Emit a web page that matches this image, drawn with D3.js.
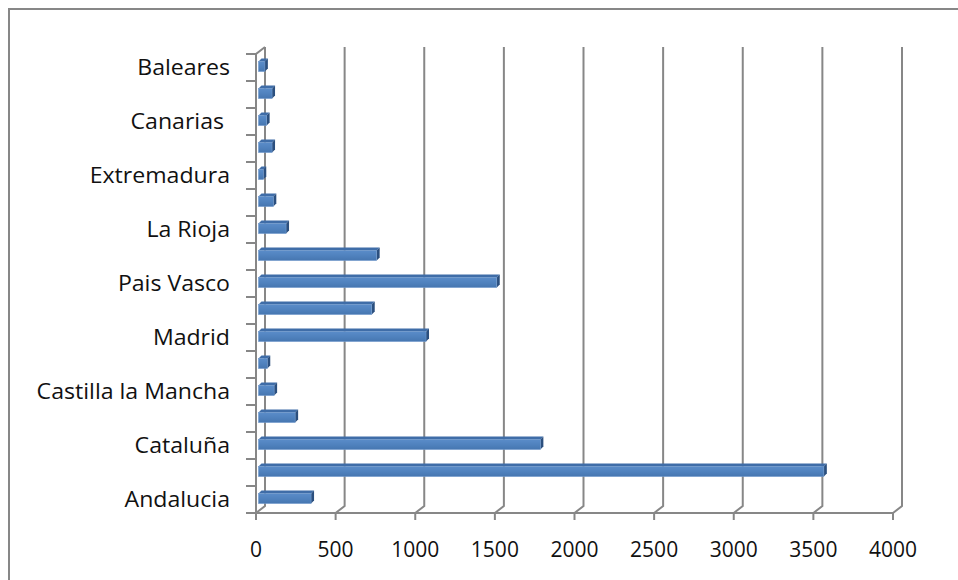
<!DOCTYPE html>
<html>
<head>
<meta charset="utf-8">
<script src="https://cdn.jsdelivr.net/npm/d3@7"></script>
<style>
  html, body { margin: 0; padding: 0; background: #ffffff; }
  svg { display: block; }
  text { font-family: "Open Sans", "Liberation Sans", sans-serif; fill: #111; white-space: pre; }
</style>
</head>
<body>
<svg id="chart" width="958" height="580"></svg>
<script>
// ---- data (bottom to top) ----
const categories = ["Andalucia", "C. Valenciana", "Cataluña", "Castilla y León", "Castilla la Mancha",
  "Murcia", "Madrid", "Galicia", "Pais Vasco", "Navarra", "La Rioja", "Aragón", "Extremadura",
  "Asturias", "Canarias ", "Cantabria", "Baleares"];
const values = [330, 3550, 1770, 230, 98, 55, 1052, 711, 1496, 742, 173, 93, 30, 85, 51, 85, 40];
const xTicks = [0, 500, 1000, 1500, 2000, 2500, 3000, 3500, 4000];
const shownLabels = categories.filter((d, i) => i % 2 === 0);

const svg = d3.select("#chart");
const gray = "#878787";
const depthX = 9, depthY = -7;       // back wall offset
const barDX = 2.5;                    // bar plane offset
const barTop = 3;                     // bar 3D depth
const textScale = 1.1;

const x = d3.scaleLinear().domain([0, 4000]).range([256, 893]);
const y = d3.scaleBand().domain(categories).range([513, 54]).padding(0);

// outer border
svg.append("rect").attr("x", 9).attr("y", 9).attr("width", 1000).attr("height", 1000)
  .attr("fill", "none").attr("stroke", gray).attr("stroke-width", 2);

// gradient for bars
const defs = svg.append("defs");
const grad = defs.append("linearGradient").attr("id", "barGrad")
  .attr("x1", 0).attr("y1", 0).attr("x2", 0).attr("y2", 1);
grad.append("stop").attr("offset", "0%").attr("stop-color", "#5a8cc9");
grad.append("stop").attr("offset", "55%").attr("stop-color", "#4f81bd");
grad.append("stop").attr("offset", "100%").attr("stop-color", "#4676b0");

const yTop = y.range()[1], yBot = y.range()[0];

// back wall gridlines + floor slants + bottom ticks
const grid = svg.append("g").attr("stroke", gray).attr("stroke-width", 2).attr("fill", "none");
xTicks.forEach(t => {
  const fx = x(t);
  grid.append("path").attr("d",
    `M${fx},${yBot} L${fx + depthX},${yBot + depthY} L${fx + depthX},${yTop + depthY}`);
  grid.append("line").attr("x1", fx).attr("x2", fx).attr("y1", yBot).attr("y2", yBot + 7);
});
// front axes
grid.append("line").attr("x1", x(0)).attr("x2", x(4000)).attr("y1", yBot).attr("y2", yBot);
grid.append("path").attr("d", `M${x(0)},${yBot} L${x(0)},${yTop} L${x(0) + depthX},${yTop + depthY}`);
// left ticks at band boundaries
const bounds = categories.map(c => y(c)).concat([yBot]);
bounds.forEach(b => {
  grid.append("line").attr("x1", x(0) - 10).attr("x2", x(0)).attr("y1", b).attr("y2", b);
});

// bars
const bars = svg.append("g");
categories.forEach((c, i) => {
  const v = values[i];
  const x0 = x(0) + barDX, x1 = x(v) + barDX;
  const yt = y(c) + 7.5, h = 10;
  // top face
  bars.append("path").attr("d",
    `M${x0},${yt} L${x0 + barTop},${yt - barTop} L${x1 + barTop},${yt - barTop} L${x1},${yt} Z`)
    .attr("fill", "#3f6da8");
  // side face
  bars.append("path").attr("d",
    `M${x1},${yt} L${x1 + barTop},${yt - barTop} L${x1 + barTop},${yt - barTop + h} L${x1},${yt + h} Z`)
    .attr("fill", "#2b4f7e");
  // front face
  bars.append("rect").attr("x", x0).attr("y", yt).attr("width", Math.max(0, x1 - x0)).attr("height", h)
    .attr("fill", "url(#barGrad)").attr("stroke", "#6f98cc").attr("stroke-width", 0.6);
});

// category labels
const lab = svg.append("g").attr("font-size", 21);
categories.forEach((c, i) => {
  if (!shownLabels.includes(c)) return;
  lab.append("text")
    .attr("transform", `translate(230,${y(c) + y.bandwidth() / 2 + 7.5}) scale(${textScale},1)`)
    .attr("text-anchor", "end").text(c);
});

// x tick labels
const xl = svg.append("g").attr("font-size", 21);
xTicks.forEach(t => {
  xl.append("text")
    .attr("transform", `translate(${x(t)},557)`)
    .attr("text-anchor", "middle").text(d3.format("d")(t));
});
</script>
</body>
</html>
